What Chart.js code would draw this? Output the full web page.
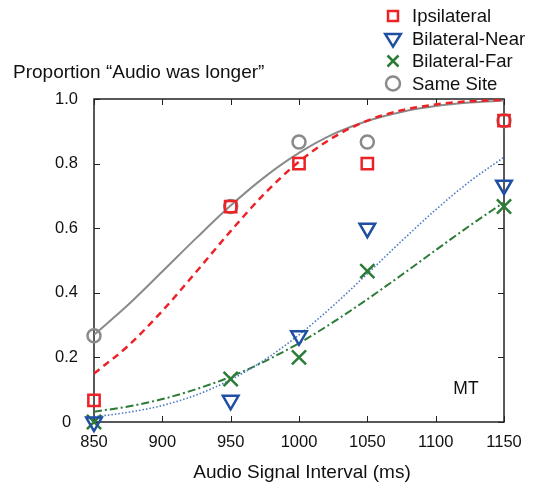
<!DOCTYPE html>
<html>
<head>
<meta charset="utf-8">
<script src="https://cdn.jsdelivr.net/npm/chart.js@4.4.1/dist/chart.umd.min.js"></script>
<style>
  html, body { margin: 0; padding: 0; background: #fff; }
</style>
</head>
<body>
<canvas id="chart" width="538" height="486"></canvas>
<script>
// Observed proportions
const intervals = [850, 950, 1000, 1050, 1150];
const ipsilateral = [0.067, 0.667, 0.8, 0.8, 0.933];
const bilateralNear = [0, 0.067, 0.267, 0.6, 0.733];
const bilateralFar = [0, 0.133, 0.2, 0.467, 0.667];
const sameSite = [0.267, 0.667, 0.867, 0.867, 0.933];

// Fitted curves, every 25 ms
const fitX = [850, 875, 900, 925, 950, 975, 1000, 1025, 1050, 1075, 1100, 1125, 1150];
const fitIpsi = [0.150, 0.236, 0.344, 0.466, 0.591, 0.708, 0.806, 0.881, 0.933, 0.965, 0.983, 0.993, 0.997];
const fitNear = [0.016, 0.030, 0.051, 0.084, 0.131, 0.193, 0.270, 0.360, 0.459, 0.560, 0.657, 0.745, 0.820];
const fitFar = [0.032, 0.048, 0.071, 0.102, 0.140, 0.188, 0.244, 0.309, 0.380, 0.455, 0.532, 0.608, 0.680];
const fitSame = [0.270, 0.363, 0.466, 0.570, 0.670, 0.759, 0.833, 0.891, 0.932, 0.960, 0.978, 0.989, 0.995];

const xTicks = [850, 900, 950, 1000, 1050, 1100, 1150];
const xTickLabels = ["850", "900", "950", "1000", "1050", "1100", "1150"];
const yTicks = [0, 0.2, 0.4, 0.6, 0.8, 1.0];
const yTickLabels = ["0", "0.2", "0.4", "0.6", "0.8", "1.0"];

const RED = "#ec2227";
const BLUE = "#1f4fa3";
const BLUE_LINE = "#4a78c4";
const GREEN = "#2c7b37";
const GRAY = "#8a8a8a";
const FONT = "'Liberation Sans', Arial, sans-serif";

const pts = (xs, ys) => xs.map((x, i) => ({ x: x, y: ys[i] }));

// Frame with inward ticks, legend and free text
const decor = {
    id: "decor",
    beforeDatasetsDraw(chart) {
        const ctx = chart.ctx;
        const a = chart.chartArea;
        const sx = chart.scales.x, sy = chart.scales.y;
        ctx.save();
        ctx.strokeStyle = "#222";
        ctx.lineWidth = 1.5;
        ctx.strokeRect(a.left, a.top, a.right - a.left, a.bottom - a.top);
        ctx.lineWidth = 1;
        ctx.beginPath();
        xTicks.forEach(v => {
            const p = Math.round(sx.getPixelForValue(v)) + 0.5;
            ctx.moveTo(p, a.bottom); ctx.lineTo(p, a.bottom - 6);
            ctx.moveTo(p, a.top); ctx.lineTo(p, a.top + 6);
        });
        yTicks.forEach(v => {
            const p = Math.round(sy.getPixelForValue(v)) + 0.5;
            ctx.moveTo(a.left, p); ctx.lineTo(a.left + 6, p);
            ctx.moveTo(a.right, p); ctx.lineTo(a.right - 6, p);
        });
        ctx.stroke();
        ctx.restore();
    },
    afterDraw(chart) {
        const ctx = chart.ctx;
        ctx.save();
        ctx.fillStyle = "#111";
        ctx.font = "19px " + FONT;
        ctx.textBaseline = "middle";
        ctx.textAlign = "left";
        ctx.fillText("Proportion \u201cAudio was longer\u201d", 13, 73);
        ctx.textAlign = "center";
        ctx.fillText("Audio Signal Interval (ms)", 302, 473);
        ctx.font = "17.5px " + FONT;
        ctx.fillText("MT", 466, 389);

        // legend
        const rows = [
            { label: "Ipsilateral", shape: "square", color: RED },
            { label: "Bilateral-Near", shape: "tri", color: BLUE },
            { label: "Bilateral-Far", shape: "cross", color: GREEN },
            { label: "Same Site", shape: "circle", color: GRAY }
        ];
        const mx = 393;
        rows.forEach((r, i) => {
            const y = 16 + i * 22.5;
            ctx.strokeStyle = r.color;
            ctx.lineWidth = 2.5;
            ctx.beginPath();
            if (r.shape === "square") {
                ctx.rect(mx - 5, y - 5, 10, 10);
            } else if (r.shape === "tri") {
                const rr = 9;
                ctx.moveTo(mx, y + rr * 0.9);
                ctx.lineTo(mx - rr * 0.866, y - rr / 2);
                ctx.lineTo(mx + rr * 0.866, y - rr / 2);
                ctx.closePath();
            } else if (r.shape === "cross") {
                ctx.moveTo(mx - 5.5, y - 5.5); ctx.lineTo(mx + 5.5, y + 5.5);
                ctx.moveTo(mx + 5.5, y - 5.5); ctx.lineTo(mx - 5.5, y + 5.5);
            } else {
                ctx.arc(mx, y, 7, 0, Math.PI * 2);
            }
            ctx.stroke();
            ctx.fillStyle = "#111";
            ctx.textAlign = "left";
            ctx.font = "18.5px " + FONT;
            ctx.fillText(r.label, 412, y + 1);
        });
        ctx.restore();
    }
};

const curve = (data, color, dash, width, order) => ({
    data: pts(fitX, data),
    showLine: true,
    borderColor: color,
    borderWidth: width,
    borderDash: dash,
    pointRadius: 0,
    cubicInterpolationMode: "monotone",
    order: order
});

const marks = (data, color, style, radius, order, rotation) => ({
    data: pts(intervals, data),
    showLine: false,
    pointStyle: style,
    pointRadius: radius,
    pointHoverRadius: radius,
    pointRotation: rotation || 0,
    pointBorderColor: color,
    pointBackgroundColor: "rgba(0,0,0,0)",
    pointBorderWidth: 2.5,
    clip: false,
    order: order
});

new Chart(document.getElementById("chart"), {
    type: "scatter",
    data: {
        datasets: [
            marks(ipsilateral, RED, "rect", 8, 1),
            marks(bilateralNear, BLUE, "triangle", 9, 2, 180),
            marks(bilateralFar, GREEN, "crossRot", 10, 3),
            marks(sameSite, GRAY, "circle", 6.5, 4),
            curve(fitIpsi, RED, [7, 5], 2.5, 5),
            curve(fitSame, GRAY, [], 2, 6),
            curve(fitNear, BLUE_LINE, [1.5, 2], 1.6, 7),
            curve(fitFar, GREEN, [8, 3, 2, 3], 2, 8)
        ]
    },
    options: {
        responsive: false,
        animation: false,
        events: [],
        layout: { padding: { top: 99, right: 34, left: 0, bottom: 0 } },
        plugins: {
            legend: { display: false },
            tooltip: { enabled: false }
        },
        scales: {
            x: {
                type: "linear",
                min: 850,
                max: 1150,
                afterBuildTicks: s => { s.ticks = xTicks.map(v => ({ value: v })); },
                afterFit: s => { s.height = 64; },
                grid: { display: false, drawTicks: false },
                border: { display: false },
                ticks: {
                    padding: 11,
                    color: "#111",
                    font: { family: FONT, size: 16.5 },
                    maxRotation: 0,
                    callback: (v, i) => xTickLabels[i]
                }
            },
            y: {
                type: "linear",
                min: 0,
                max: 1,
                afterBuildTicks: s => { s.ticks = yTicks.map(v => ({ value: v })); },
                afterFit: s => { s.width = 94; },
                grid: { display: false, drawTicks: false },
                border: { display: false },
                ticks: {
                    padding: 16,
                    crossAlign: "center",
                    color: "#111",
                    font: { family: FONT, size: 16.5 },
                    callback: (v, i) => yTickLabels[i]
                }
            }
        }
    },
    plugins: [decor]
});
</script>
</body>
</html>
